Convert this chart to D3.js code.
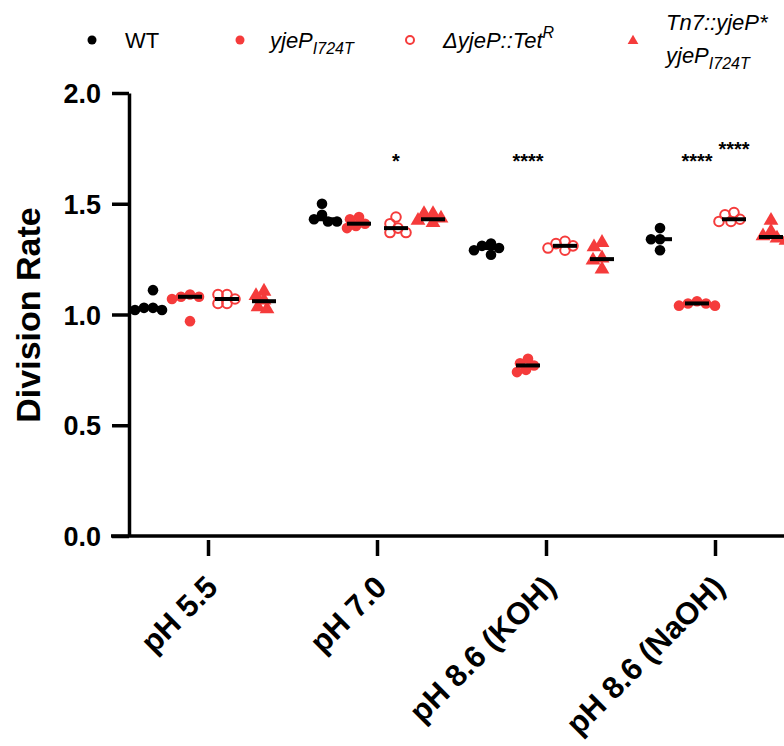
<!DOCTYPE html>
<html>
<head>
<meta charset="utf-8">
<script src="https://cdn.jsdelivr.net/npm/d3@7"></script>
<style>
  body { margin: 0; background: #fff; }
  svg { font-family: "Liberation Sans", Arial, sans-serif; }
</style>
</head>
<body>
<svg id="chart" width="784" height="746"></svg>
<script>
// categories and strains
var conditions = ["pH 5.5", "pH 7.0", "pH 8.6 (KOH)", "pH 8.6 (NaOH)"];
var strains = ["WT", "yjeP I724T", "deltaYjeP", "Tn7 complement"];

// division rate per replicate, one list per condition
var wtValues = [
  [1.11, 1.03, 1.02, 1.02, 1.03],
  [1.50, 1.45, 1.43, 1.42, 1.42],
  [1.32, 1.31, 1.30, 1.29, 1.27],
  [1.39, 1.34, 1.34, 1.29]
];
var i724tValues = [
  [1.09, 1.08, 1.08, 1.07, 0.97],
  [1.44, 1.43, 1.41, 1.40, 1.39],
  [0.80, 0.78, 0.77, 0.75, 0.74],
  [1.06, 1.05, 1.05, 1.04, 1.04]
];
var deltaValues = [
  [1.09, 1.09, 1.07, 1.05, 1.05],
  [1.44, 1.41, 1.39, 1.37, 1.37],
  [1.33, 1.32, 1.31, 1.30, 1.29],
  [1.46, 1.45, 1.43, 1.42, 1.42]
];
var tn7Values = [
  [1.10, 1.08, 1.06, 1.03, 1.02],
  [1.45, 1.45, 1.43, 1.42, 1.41],
  [1.32, 1.30, 1.25, 1.24, 1.20],
  [1.42, 1.37, 1.35, 1.34, 1.33]
];

// significance marks: condition index, strain index, label, y value
var stars = [
  [1, 2, "*", 1.72],
  [2, 1, "****", 1.72],
  [3, 1, "****", 1.72],
  [3, 2, "****", 1.775]
];

var yTicks = [0.0, 0.5, 1.0, 1.5, 2.0];

var red = "#f53b3b";
var allValues = [wtValues, i724tValues, deltaValues, tn7Values];

var svg = d3.select("#chart");

var x = d3.scaleBand().domain(conditions).range([124, 800]);
var sub = d3.scalePoint().domain(strains).range([-55.5, 55.5]);
var y = d3.scaleLinear().domain([0, 2]).range([536, 93]);

// axes
var yAxis = svg.append("g")
  .attr("transform", "translate(129,0)")
  .call(d3.axisLeft(y).tickValues(yTicks).tickFormat(d3.format(".1f")).tickSize(17).tickSizeOuter(0));
yAxis.select(".domain").attr("stroke-width", 3.5);
yAxis.selectAll(".tick line").attr("stroke-width", 3.5);
yAxis.selectAll(".tick text")
  .attr("x", -28)
  .attr("dy", "0.36em")
  .style("font-size", "27px")
  .style("font-weight", "bold")
  .attr("fill", "#000");

svg.append("line")
  .attr("x1", 111).attr("x2", 784)
  .attr("y1", y(0)).attr("y2", y(0))
  .attr("stroke", "#000").attr("stroke-width", 3.5);

var xAxis = svg.append("g")
  .attr("transform", "translate(0,540)")
  .call(d3.axisBottom(x).tickSize(16).tickSizeOuter(0));
xAxis.select(".domain").remove();
xAxis.selectAll(".tick line").attr("stroke-width", 3.5);
xAxis.selectAll(".tick text")
  .attr("y", 0).attr("dy", 0)
  .attr("text-anchor", "end")
  .attr("transform", "translate(11,49) rotate(-45)")
  .style("font-size", "31px")
  .style("font-weight", "bold")
  .attr("fill", "#000");

svg.append("text")
  .attr("transform", "translate(40,315) rotate(-90)")
  .attr("text-anchor", "middle")
  .style("font-size", "34px")
  .style("font-weight", "bold")
  .text("Division Rate");

// simple swarm so close values spread sideways
function swarm(vals, minDist) {
  var placed = [];
  var order = vals.map(function (v, i) { return i; })
    .sort(function (a, b) { return vals[b] - vals[a]; });
  var out = new Array(vals.length);
  order.forEach(function (i) {
    var py = y(vals[i]);
    for (var k = 0; k < 60; k++) {
      var dx = (k % 2 === 0 ? 1 : -1) * Math.ceil(k / 2);
      var ok = placed.every(function (p) {
        return Math.hypot(p[0] - dx, p[1] - py) >= minDist;
      });
      if (ok) { placed.push([dx, py]); out[i] = dx; break; }
    }
  });
  return out;
}

var tri = d3.symbol().type(d3.symbolTriangle).size(95);

allValues.forEach(function (series, si) {
  series.forEach(function (vals, ci) {
    var cx = x(conditions[ci]) + x.bandwidth() / 2 + sub(strains[si]);
    var offs = swarm(vals, 8.5);
    var g = svg.append("g");
    vals.forEach(function (v, i) {
      var px = cx + offs[i], py = y(v);
      if (si === 0) {
        g.append("circle").attr("cx", px).attr("cy", py).attr("r", 5.3).attr("fill", "#000");
      } else if (si === 1) {
        g.append("circle").attr("cx", px).attr("cy", py).attr("r", 5.3).attr("fill", red);
      } else if (si === 2) {
        g.append("circle").attr("cx", px).attr("cy", py).attr("r", 4.8)
          .attr("fill", "none").attr("stroke", red).attr("stroke-width", 2);
      } else {
        g.append("path").attr("d", tri).attr("transform", "translate(" + px + "," + (py - 1) + ")").attr("fill", red);
      }
    });
    var m = d3.median(vals);
    g.append("line")
      .attr("x1", cx - 12).attr("x2", cx + 12)
      .attr("y1", y(m)).attr("y2", y(m))
      .attr("stroke", "#000").attr("stroke-width", 4);
  });
});

stars.forEach(function (s) {
  var cx = x(conditions[s[0]]) + x.bandwidth() / 2 + sub(strains[s[1]]);
  svg.append("text")
    .attr("x", cx).attr("y", y(s[3]) + 13)
    .attr("text-anchor", "middle")
    .style("font-size", "20px")
    .style("font-weight", "bold")
    .text(s[2]);
});

// legend
var legend = svg.append("g").style("font-size", "22px");
legend.append("circle").attr("cx", 92).attr("cy", 40).attr("r", 4.5).attr("fill", "#000");
legend.append("text").attr("x", 125).attr("y", 48).text("WT");

legend.append("circle").attr("cx", 240).attr("cy", 40).attr("r", 4.5).attr("fill", red);
var t2 = legend.append("text").attr("x", 270).attr("y", 48).style("font-style", "italic");
t2.append("tspan").text("yjeP");
t2.append("tspan").attr("dy", 6).style("font-size", "16px").text("I724T");

legend.append("circle").attr("cx", 410).attr("cy", 40).attr("r", 4).attr("fill", "none")
  .attr("stroke", red).attr("stroke-width", 2);
var t3 = legend.append("text").attr("x", 443).attr("y", 48).style("font-style", "italic");
t3.append("tspan").text("\u0394yjeP::Tet");
t3.append("tspan").attr("dy", -10).style("font-size", "16px").text("R");

legend.append("path").attr("d", d3.symbol().type(d3.symbolTriangle).size(50))
  .attr("transform", "translate(633,41)").attr("fill", red);
legend.append("text").attr("x", 666).attr("y", 30).style("font-style", "italic").text("Tn7::yjeP*");
var t4 = legend.append("text").attr("x", 666).attr("y", 63).style("font-style", "italic");
t4.append("tspan").text("yjeP");
t4.append("tspan").attr("dy", 6).style("font-size", "16px").text("I724T");
</script>
</body>
</html>
